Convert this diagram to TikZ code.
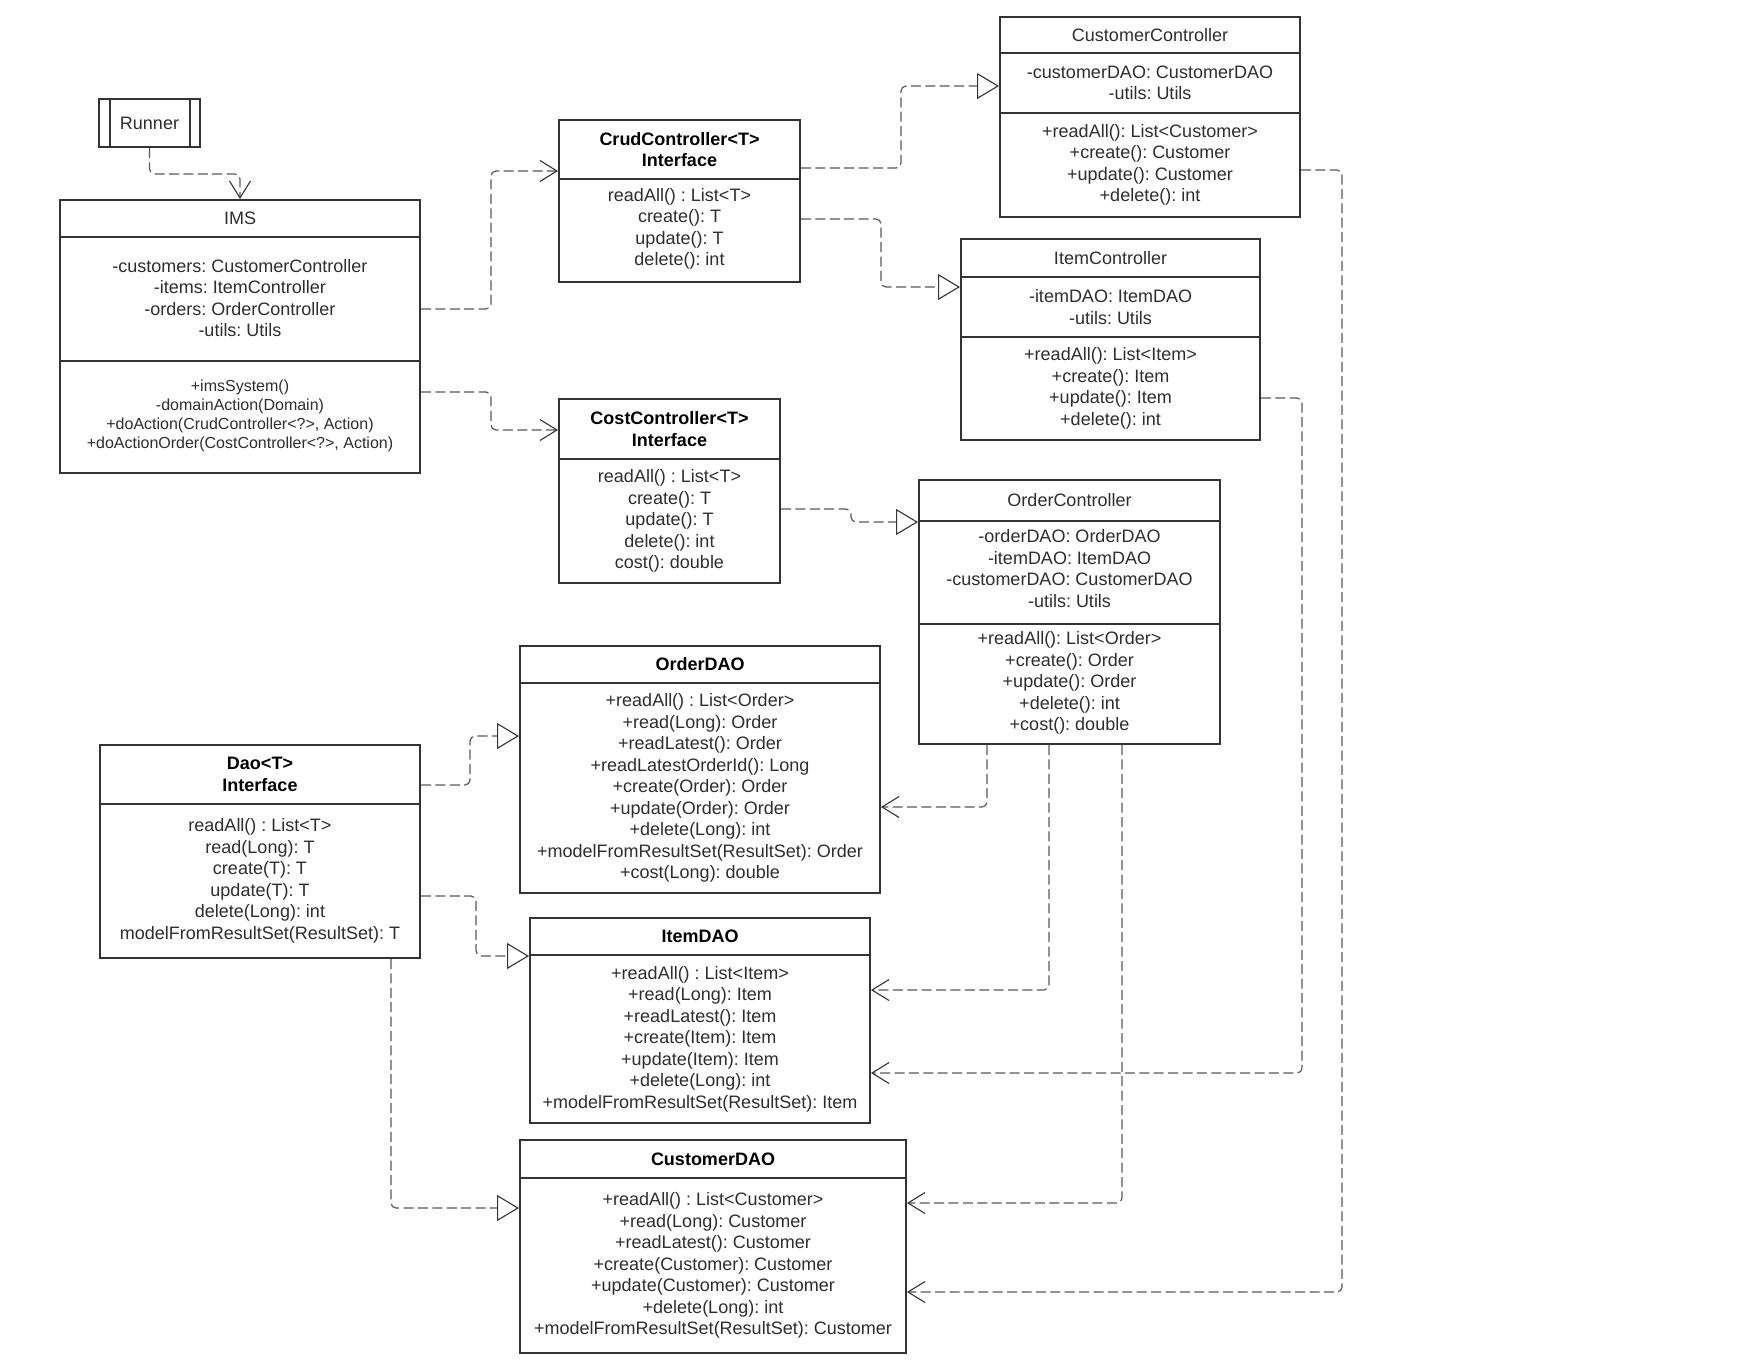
\documentclass[tikz,border=0pt]{standalone}
\usepackage{fontspec}
\setmainfont{Liberation Sans}
\usetikzlibrary{arrows.meta,fit}
\definecolor{boxline}{HTML}{333333}
\definecolor{txtgray}{HTML}{2E2E2E}
\definecolor{depline}{HTML}{5A5A5A}
\begin{document}
\frenchspacing
\begin{tikzpicture}[x=0.5pt,y=-0.5pt,
    cls/.style={draw=boxline,line width=1pt,inner sep=0pt},
    sep/.style={draw=boxline,line width=1pt},
    clstitle/.style={font=\fontsize{9}{10.8}\selectfont\bfseries,align=center,text=black},
    clsname/.style={font=\fontsize{9}{10.8}\selectfont,align=center,text=txtgray},
    members/.style={font=\fontsize{9}{10.75}\selectfont,align=center,text=txtgray},
    smallmembers/.style={font=\fontsize{8}{9.5}\selectfont,align=center,text=txtgray},
    dep/.style={draw=depline,line width=0.6pt,dash pattern=on 5pt off 2.2pt,rounded corners=2.5pt},
    uses/.style={dep,-{Straight Barb[length=8.5pt,width=10.5pt,line width=0.55pt,color=boxline]}},
    impl/.style={dep,-{Triangle[open,length=11pt,width=13pt,line width=0.55pt,color=boxline,fill=white]}}]
  \path[fill=white,use as bounding box] (0,0) rectangle (1760,1360);

  \node[cls,fit={(99,99) (200,147)}] (runner) {};
  \draw[sep] (110,99) -- (110,147) (190,99) -- (190,147);
  \node[clsname] at (runner.center) {Runner};

  \node[cls,fit={(60,200) (420,473)}] (ims) {};
  \draw[sep] (ims.west |- 0,237) -- (ims.east |- 0,237)
             (ims.west |- 0,361) -- (ims.east |- 0,361);
  \node[clsname] at (240,218.5) {IMS};
  \node[members] at (240,298) {-customers: CustomerController\\-items: ItemController\\-orders: OrderController\\-utils: Utils};
  \node[smallmembers] at (240,416) {+imsSystem()\\-domainAction(Domain)\\+doAction(CrudController<?>, Action)\\+doActionOrder(CostController<?>, Action)};

  \node[cls,fit={(559,120) (800,282)}] (crud) {};
  \draw[sep] (crud.west |- 0,179) -- (crud.east |- 0,179);
  \node[clstitle] at (679.5,149.5) {CrudController<T>\\Interface};
  \node[members] at (679.5,229) {readAll() : List<T>\\create(): T\\update(): T\\delete(): int};

  \node[cls,fit={(559,399) (780,583)}] (cost) {};
  \draw[sep] (cost.west |- 0,459) -- (cost.east |- 0,459);
  \node[clstitle] at (669.5,429) {CostController<T>\\Interface};
  \node[members] at (669.5,521) {readAll() : List<T>\\create(): T\\update(): T\\delete(): int\\cost(): double};

  \node[cls,fit={(1000,17) (1300,217)}] (custctrl) {};
  \draw[sep] (custctrl.west |- 0,53) -- (custctrl.east |- 0,53)
             (custctrl.west |- 0,113) -- (custctrl.east |- 0,113);
  \node[clsname] at (1150,35) {CustomerController};
  \node[members] at (1150,83) {-customerDAO: CustomerDAO\\-utils: Utils};
  \node[members] at (1150,165) {+readAll(): List<Customer>\\+create(): Customer\\+update(): Customer\\+delete(): int};

  \node[cls,fit={(961,239) (1260,440)}] (itemctrl) {};
  \draw[sep] (itemctrl.west |- 0,277) -- (itemctrl.east |- 0,277)
             (itemctrl.west |- 0,337) -- (itemctrl.east |- 0,337);
  \node[clsname] at (1110.5,258) {ItemController};
  \node[members] at (1110.5,307) {-itemDAO: ItemDAO\\-utils: Utils};
  \node[members] at (1110.5,388.5) {+readAll(): List<Item>\\+create(): Item\\+update(): Item\\+delete(): int};

  \node[cls,fit={(919,480) (1220,744)}] (orderctrl) {};
  \draw[sep] (orderctrl.west |- 0,521) -- (orderctrl.east |- 0,521)
             (orderctrl.west |- 0,624) -- (orderctrl.east |- 0,624);
  \node[clsname] at (1069.5,500.5) {OrderController};
  \node[members] at (1069.5,568.5) {-orderDAO: OrderDAO\\-itemDAO: ItemDAO\\-customerDAO: CustomerDAO\\-utils: Utils};
  \node[members] at (1069.5,683) {+readAll(): List<Order>\\+create(): Order\\+update(): Order\\+delete(): int\\+cost(): double};

  \node[cls,fit={(520,646) (880,893)}] (orderdao) {};
  \draw[sep] (orderdao.west |- 0,683) -- (orderdao.east |- 0,683);
  \node[clstitle] at (700,664.5) {OrderDAO};
  \node[members] at (700,788) {+readAll() : List<Order>\\+read(Long): Order\\+readLatest(): Order\\+readLatestOrderId(): Long\\+create(Order): Order\\+update(Order): Order\\+delete(Long): int\\+modelFromResultSet(ResultSet): Order\\+cost(Long): double};

  \node[cls,fit={(100,745) (420,958)}] (dao) {};
  \draw[sep] (dao.west |- 0,804) -- (dao.east |- 0,804);
  \node[clstitle] at (260,774.5) {Dao<T>\\Interface};
  \node[members] at (260,881) {readAll() : List<T>\\read(Long): T\\create(T): T\\update(T): T\\delete(Long): int\\modelFromResultSet(ResultSet): T};

  \node[cls,fit={(530,918) (870,1123)}] (itemdao) {};
  \draw[sep] (itemdao.west |- 0,955) -- (itemdao.east |- 0,955);
  \node[clstitle] at (700,936.5) {ItemDAO};
  \node[members] at (700,1039) {+readAll() : List<Item>\\+read(Long): Item\\+readLatest(): Item\\+create(Item): Item\\+update(Item): Item\\+delete(Long): int\\+modelFromResultSet(ResultSet): Item};

  \node[cls,fit={(520,1140) (906,1353)}] (custdao) {};
  \draw[sep] (custdao.west |- 0,1178) -- (custdao.east |- 0,1178);
  \node[clstitle] at (713,1159) {CustomerDAO};
  \node[members] at (713,1265.5) {+readAll() : List<Customer>\\+read(Long): Customer\\+readLatest(): Customer\\+create(Customer): Customer\\+update(Customer): Customer\\+delete(Long): int\\+modelFromResultSet(ResultSet): Customer};

  \draw[uses] (runner.south) -- ++(0,26) -| (ims.north);
  \draw[uses] (ims.east |- 0,309) -- ++(70,0) |- (crud.west |- 0,171);
  \draw[uses] (ims.east |- 0,392) -- ++(70,0) |- (cost.west |- 0,430);
  \draw[impl] (crud.east |- 0,168) -- ++(100,0) |- (custctrl.west |- 0,86);
  \draw[impl] (crud.east |- 0,219) -- ++(80,0) |- (itemctrl.west |- 0,287);
  \draw[impl] (cost.east |- 0,509) -- ++(70,0) |- (orderctrl.west |- 0,522);
  \draw[impl] (dao.east |- 0,785) -- ++(49,0) |- (orderdao.west |- 0,736);
  \draw[impl] (dao.east |- 0,896) -- ++(55,0) |- (itemdao.west |- 0,956);
  \draw[impl] (dao.south -| 391,0) |- (custdao.west |- 0,1208);
  \draw[uses] (orderctrl.south -| 987,0) |- (orderdao.east |- 0,807);
  \draw[uses] (orderctrl.south -| 1049,0) |- (itemdao.east |- 0,990);
  \draw[uses] (orderctrl.south -| 1122,0) |- (custdao.east |- 0,1203);
  \draw[uses] (itemctrl.east |- 0,398) -- ++(41,0) |- (itemdao.east |- 0,1073);
  \draw[uses] (custctrl.east |- 0,170) -- ++(41,0) |- (custdao.east |- 0,1292);
\end{tikzpicture}
\end{document}
